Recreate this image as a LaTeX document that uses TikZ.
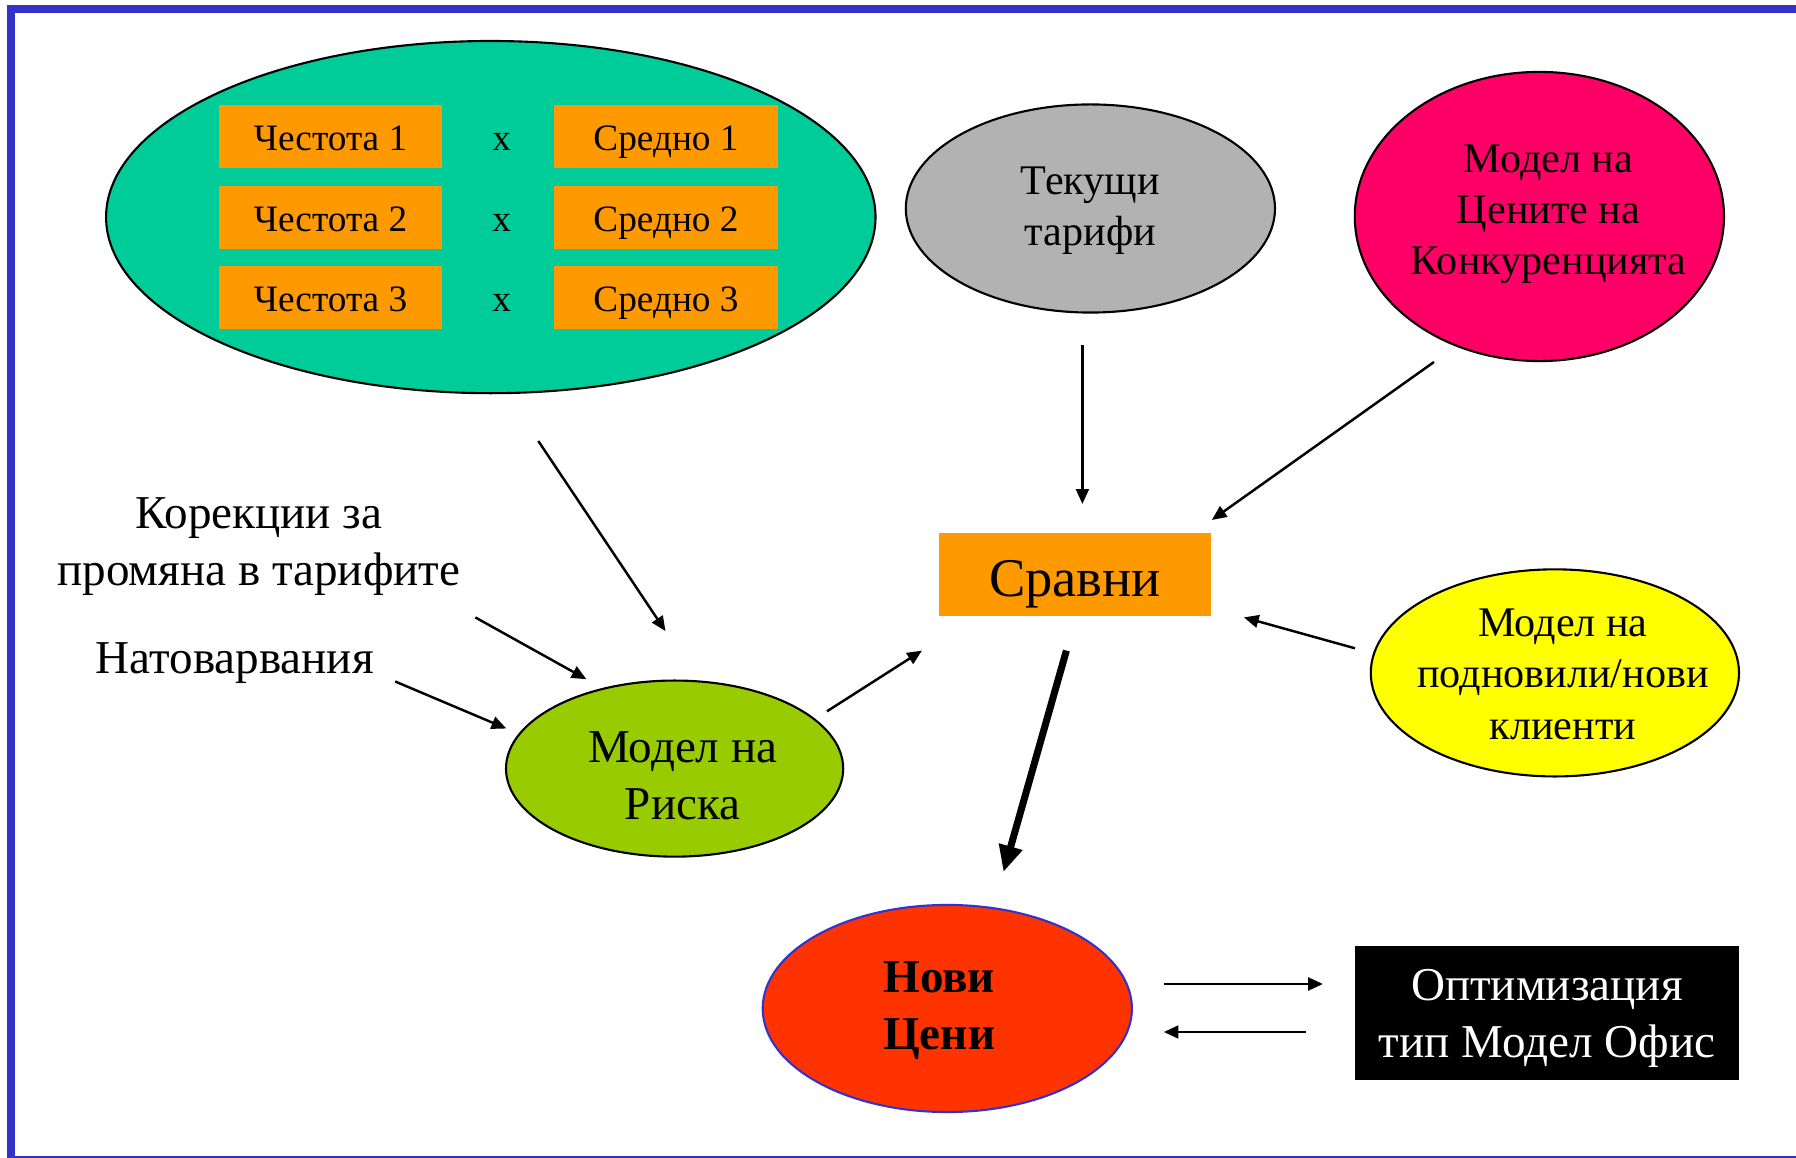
\documentclass[tikz,border=0pt]{standalone}
\usepackage{fontspec}
\setmainfont{Liberation Serif}
\usetikzlibrary{shapes.geometric,arrows.meta,positioning}
\definecolor{cFrame}{HTML}{3333CC}
\definecolor{cTeal}{HTML}{00CC99}
\definecolor{cOrange}{HTML}{FF9900}
\definecolor{cGrey}{HTML}{B2B2B2}
\definecolor{cPink}{HTML}{FF0066}
\definecolor{cYellow}{HTML}{FFFF00}
\definecolor{cLime}{HTML}{99CC00}
\definecolor{cRed}{HTML}{FF3300}
\tikzset{
  oval/.style  = {ellipse, draw=black, line width=0.6pt, inner sep=0pt, fill=#1},
  cell/.style  = {rectangle, fill=cOrange, minimum width=2.23cm, minimum height=0.63cm,
                  inner sep=0pt, text height=8pt, text depth=0pt,
                  font=\fontsize{10.6}{12.7}\selectfont},
  txt/.style   = {align=center, font=\fontsize{12}{14.6}\selectfont},
  txtl/.style  = {align=center, font=\fontsize{13.4}{16.2}\selectfont},
  arr/.style   = {-{Triangle[length=4.2pt, width=3.6pt]}, line width=0.7pt},
  arrb/.style  = {-{Triangle[length=7.5pt, width=6.5pt]}, line width=2pt},
}

\begin{document}
\begin{tikzpicture}[x=0.01cm, y=-0.01cm]
  \useasboundingbox (0,0) rectangle (1796,1158);
  % frame
  \fill[cFrame] (7,5) rectangle (1796,13);
  \fill[cFrame] (7,5) rectangle (15,1158);
  \draw[cFrame, line width=0.5pt] (7,1157) -- (1796,1157);

  % frequency x severity group
  \node[oval=cTeal, minimum width=7.69cm, minimum height=3.52cm] (grp) at (490.8,217.1) {};
  \foreach \i/\y in {1/136.9, 2/217.1, 3/297.2} {
    \node[cell] (fr\i) at (330.5,\y) {Честота \i};
    \node[cell] (av\i) at (666,\y) {Средно \i};
    \node[cell, fill=none] (x\i) at (501.7,\y) {x};
  }

  \node[oval=cGrey, minimum width=3.69cm, minimum height=2.08cm,
        label={[txt, yshift=-0.6pt]center:{Текущи\\тарифи}}] (cur) at (1090.4,208.5) {};
  \node[oval=cPink, minimum width=3.69cm, minimum height=2.89cm,
        label={[txt, xshift=2.6pt, yshift=0.6pt]center:{Модел на\\Цените на\\Конкуренцията}}] (comp) at (1539.4,216.5) {};
  \node[rectangle, fill=cOrange, minimum width=2.715cm, minimum height=0.836cm,
        text height=12.6pt, text depth=0pt,
        font=\fontsize{15.5}{18}\selectfont] (cmp) at (1075,574.4) {Сравни};
  \node[oval=cYellow, minimum width=3.68cm, minimum height=2.07cm,
        label={[txt, xshift=2.3pt, yshift=-0.4pt]center:{Модел на\\подновили/нови\\клиенти}}] (renew) at (1554.9,672.9) {};
  \node[oval=cLime, minimum width=3.37cm, minimum height=1.76cm,
        label={[txtl, xshift=2.3pt, yshift=-2pt]center:{Модел на\\Риска}}] (risk) at (674.6,768.6) {};
  \node[oval=cRed, draw=cFrame, minimum width=3.69cm, minimum height=2.07cm,
        label={[txtl, font=\fontsize{13.4}{16.2}\selectfont\bfseries, xshift=-2.3pt, yshift=-0.6pt]center:{Нови\\Цени}}] (newp) at (947.3,1008.5) {};
  \node[rectangle, fill=black, inner sep=0pt, minimum width=3.84cm, minimum height=1.34cm,
        label={[txtl, text=white, yshift=-1.6pt]center:{Оптимизация\\тип Модел Офис}}] (opt) at (1546.9,1013) {};

  \node[txtl] (corr) at (258.9,546.8) {Корекции за\\промяна в тарифите};
  \node[txtl] (load) at (234.8,663.2) {Натоварвания};

  % connectors
  \draw[arr] ([shift={(47.5,223.9)}]grp.center) -- ([shift={(-9.1,-137.5)}]risk.center);
  \draw[arr] ([shift={(216.4,70.6)}]corr.center) -- ([shift={(-88.2,-89.4)}]risk.center);
  \draw[arr] ([shift={(160.4,18.3)}]load.center) -- ([shift={(-168.3,-40.1)}]risk.center);
  \draw[arr] ([shift={(152.4,-57.3)}]risk.center) -- ([shift={(-153,76.2)}]cmp.center);
  \draw[arr] ([shift={(-8,136.3)}]cur.center) -- ([shift={(7.4,-70.4)}]cmp.center);
  \draw[arr] ([shift={(-105.4,145.5)}]comp.center) -- ([shift={(136.8,-54.4)}]cmp.center);
  \draw[arr] ([shift={(-199.9,-24.6)}]renew.center) -- ([shift={(168.9,43)}]cmp.center);
  \draw[arrb] ([shift={(-8.6,76.2)}]cmp.center) -- ([shift={(56.2,-136.5)}]newp.center);
  \draw[arr, line width=0.85pt] ([shift={(216.4,-24.5)}]newp.center) -- ([shift={(-223.9,-29)}]opt.center);
  \draw[arr, line width=0.85pt] ([shift={(-240.9,19)}]opt.center) -- ([shift={(216.4,23.5)}]newp.center);
\end{tikzpicture}
\end{document}
